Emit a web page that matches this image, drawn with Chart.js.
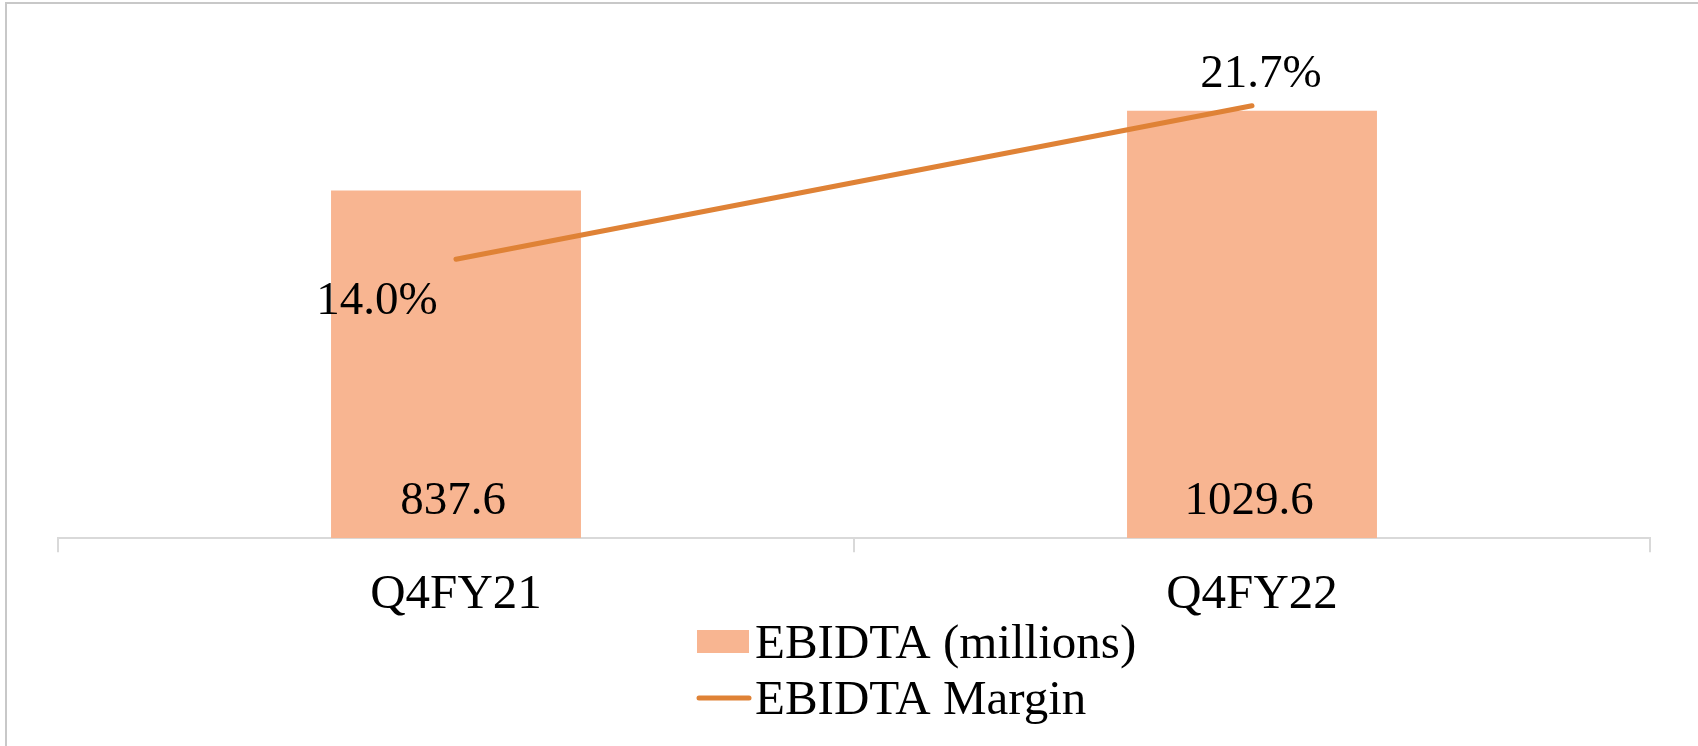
<!DOCTYPE html>
<html>
<head>
<meta charset="utf-8">
<script src="https://cdn.jsdelivr.net/npm/chart.js@4.4.0/dist/chart.umd.min.js"></script>
<style>
  body { margin: 0; background: #fff; }
  #wrap { position: relative; width: 1698px; height: 746px; }
  #frame { position: absolute; top: 2px; left: 5px; right: 0; bottom: 0;
           border-top: 2px solid #c8c8c8; border-left: 2px solid #c8c8c8; pointer-events: none; }
</style>
</head>
<body>
<div id="wrap">
  <canvas id="myChart" width="1698" height="746"></canvas>
  <div id="frame"></div>
</div>
<script>
const quarters = ['Q4FY21', 'Q4FY22'];
const ebitda = [837.6, 1029.6];
const margin = [14.0, 21.7];

const barColor = '#f8b591';
const lineColor = '#df8236';
const fontFamily = '"Liberation Serif", "Times New Roman", serif';

// value labels for bars and line points
const valueLabels = {
    id: 'valueLabels',
    afterDatasetsDraw(chart) {
        const ctx = chart.ctx;
        ctx.save();
        ctx.font = '47px ' + fontFamily;
        ctx.fillStyle = '#000';
        ctx.textAlign = 'center';
        ctx.textBaseline = 'alphabetic';
        chart.data.datasets.forEach((ds, di) => {
            const meta = chart.getDatasetMeta(di);
            meta.data.forEach((el, i) => {
                if (ds.type === 'bar') {
                    ctx.fillText(ds.data[i].toFixed(1), el.x - 3, el.base - 24);
                } else {
                    // first point label sits below-left, last one above
                    const dx = i === 0 ? -79 : 9;
                    const dy = i === 0 ? 55 : -19;
                    ctx.fillText(ds.data[i].toFixed(1) + '%', el.x + dx, el.y + dy);
                }
            });
        });
        ctx.restore();
    }
};

// stacked legend under the axis, like the Excel original (bar first, then line)
const stackedLegend = {
    id: 'stackedLegend',
    afterDraw(chart) {
        const ctx = chart.ctx;
        const left = 697, textX = 755;
        const items = chart.data.datasets.slice().sort((a, b) => b.order - a.order);
        ctx.save();
        ctx.font = '49px ' + fontFamily;
        ctx.textAlign = 'left';
        ctx.textBaseline = 'alphabetic';
        items.forEach((ds, row) => {
            const base = 658 + row * 56;
            if (ds.type === 'bar') {
                ctx.fillStyle = ds.backgroundColor;
                ctx.fillRect(left, base - 28, 52, 23);
            } else {
                ctx.strokeStyle = ds.borderColor;
                ctx.lineWidth = 5;
                ctx.lineCap = 'round';
                ctx.beginPath();
                ctx.moveTo(left + 2, base - 16);
                ctx.lineTo(left + 52, base - 16);
                ctx.stroke();
            }
            ctx.fillStyle = '#000';
            ctx.fillText(ds.label, textX, base);
        });
        ctx.restore();
    }
};

let myChart = document.getElementById('myChart').getContext('2d');

let ebitdaChart = new Chart(myChart, {
    data: {
        labels: quarters,
        datasets: [{
            type: 'line',
            label: 'EBIDTA Margin',
            data: margin,
            yAxisID: 'y2',
            borderColor: lineColor,
            borderWidth: 5,
            borderCapStyle: 'round',
            pointRadius: 0,
            order: 0
        }, {
            type: 'bar',
            label: 'EBIDTA (millions)',
            data: ebitda,
            yAxisID: 'y',
            backgroundColor: barColor,
            categoryPercentage: 1,
            barPercentage: 0.314,
            order: 1
        }]
    },
    options: {
        responsive: false,
        animation: false,
        layout: { padding: { left: 58, right: 48, top: 40, bottom: 107 } },
        plugins: {
            legend: { display: false },
            tooltip: { enabled: false }
        },
        scales: {
            x: {
                offset: true,
                grid: {
                    offset: true,
                    drawOnChartArea: false,
                    drawTicks: true,
                    tickLength: 14,
                    color: '#d9d9d9',
                    lineWidth: 2
                },
                border: { display: true, color: '#d9d9d9', width: 2 },
                ticks: {
                    color: '#000',
                    padding: 14,
                    font: { family: fontFamily, size: 49 }
                }
            },
            y: { display: false, min: 0, max: 1200 },
            y2: { display: false, position: 'right', min: 0, max: 25 }
        }
    },
    plugins: [valueLabels, stackedLegend]
});
</script>
</body>
</html>
